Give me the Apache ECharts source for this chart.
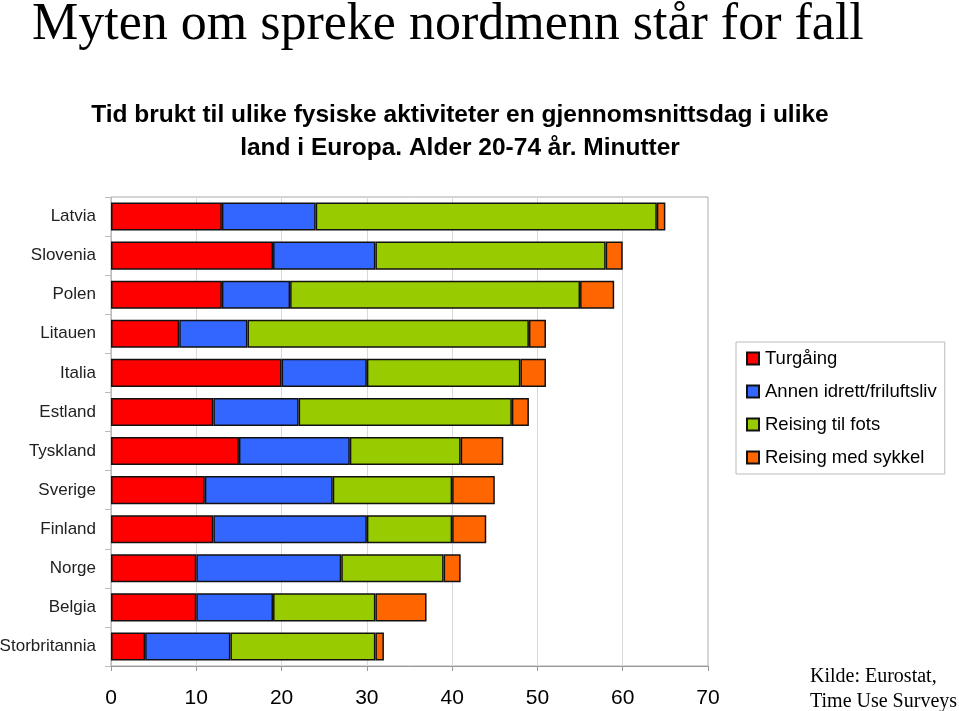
<!DOCTYPE html>
<html><head><meta charset="utf-8">
<script src="https://cdn.jsdelivr.net/npm/echarts@6/dist/echarts.min.js"></script>
<style>html,body{margin:0;padding:0;background:#fff}#c{width:959px;height:711px}</style>
</head><body><div id="c"></div>
<script>
const categories = ["Latvia","Slovenia","Polen","Litauen","Italia","Estland","Tyskland","Sverige","Finland","Norge","Belgia","Storbritannia"];
const turgaing = [13,19,13,8,20,12,15,11,12,10,10,4];
const annenIdrett = [11,12,8,8,10,10,13,15,18,17,9,10];
const reisingFots = [40,27,34,33,18,25,13,14,10,12,12,17];
const reisingSykkel = [1,2,4,2,3,2,5,5,4,2,6,1];
const seriesNames = ["Turgåing","Annen idrett/friluftsliv","Reising til fots","Reising med sykkel"];
const colors = ["#ff0000","#3366ff","#99cc00","#ff6600"];
const xTicks = [0,10,20,30,40,50,60,70];

const chart = echarts.init(document.getElementById('c'), null, {renderer:'canvas'});
const dataSets = [turgaing, annenIdrett, reisingFots, reisingSykkel];
chart.setOption({
  animation:false,
  backgroundColor:'#fff',
  title:[
    {text:'Myten om spreke nordmenn står for fall', left:27, top:-6,
     textStyle:{fontFamily:'Liberation Serif', fontSize:52, fontWeight:'normal', color:'#000'}},
    {text:'Tid brukt til ulike fysiske aktiviteter en gjennomsnittsdag i ulike\nland i Europa. Alder 20-74 år. Minutter', left:455, top:94, textAlign:'center',
     textStyle:{fontFamily:'Liberation Sans', fontSize:24.5, fontWeight:'bold', color:'#000', lineHeight:33, align:'center'}},
    {text:'Kilde: Eurostat,\nTime Use Surveys', left:805, top:659,
     textStyle:{fontFamily:'Liberation Serif', fontSize:20, fontWeight:'normal', color:'#000', lineHeight:25}}
  ],
  legend:{
    orient:'vertical', left:736, top:342, width:207,
    padding:[7,8,7,10], itemGap:14,
    borderColor:'#bbbbbb', borderWidth:1,
    itemWidth:12, itemHeight:12, icon:'rect',
    textStyle:{fontFamily:'Liberation Sans', fontSize:18.5, color:'#000', padding:[0,0,0,1]},
    data:seriesNames
  },
  grid:{left:111, top:197, width:597, height:469, show:true, borderColor:'#aaaaaa', borderWidth:1, containLabel:false, outerBoundsMode:'none'},
  xAxis:{type:'value', min:0, max:70, interval:10,
    axisLine:{show:true, lineStyle:{color:'#999'}},
    axisTick:{show:true, length:5, lineStyle:{color:'#999'}},
    axisLabel:{fontFamily:'Liberation Sans', fontSize:21, color:'#000', margin:22,
      formatter:v=> xTicks.includes(v)? String(v):''},
    splitLine:{show:true, lineStyle:{color:'#d9d9d9', width:1}}
  },
  yAxis:{type:'category', data:categories, inverse:true,
    axisLine:{show:true, lineStyle:{color:'#bbb'}},
    axisTick:{show:true, length:6, lineStyle:{color:'#bbb'}},
    axisLabel:{fontFamily:'Liberation Sans', fontSize:17, color:'#222', margin:15}
  },
  series: seriesNames.map((n,i)=>({
    name:n, type:'bar', stack:'total', data:dataSets[i],
    barCategoryGap:'28%',
    itemStyle:{color:colors[i], borderColor:'#111', borderWidth:1.5}
  }))
});
</script></body></html>
